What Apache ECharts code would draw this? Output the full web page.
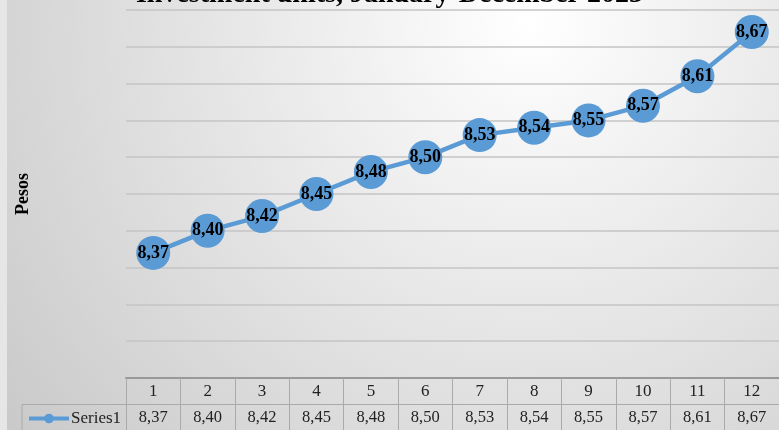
<!DOCTYPE html>
<html>
<head>
<meta charset="utf-8">
<script src="https://cdn.jsdelivr.net/npm/echarts@6/dist/echarts.min.js"></script>
<style>html,body{margin:0;padding:0;}#c{width:779px;height:430px;}</style>
</head>
<body>
<div id="c"></div>
<script>
const titleText = 'Investment units, January-December 2023';
const categories = ['1','2','3','4','5','6','7','8','9','10','11','12'];
const values = [8.37, 8.40, 8.42, 8.45, 8.48, 8.50, 8.53, 8.54, 8.55, 8.57, 8.61, 8.67];
const seriesName = 'Series1';
const yName = 'Pesos';

const fmt = v => v.toFixed(2).replace('.', ',');
const serif = '"Liberation Serif", "Times New Roman", serif';
const chart = echarts.init(document.getElementById('c'));
chart.setOption({
  animation: false,
  backgroundColor: {
    type: 'radial', x: 0.68, y: 0.05, r: 1.55,
    colorStops: [{offset: 0, color: '#ffffff'}, {offset: 1, color: '#c9c9c9'}]
  },
  graphic: [
    {type: 'rect', left: 0, top: 0, shape: {width: 7, height: 430}, style: {fill: '#e6e6e6'}, z: -1},
    {type: 'text', left: 'center', top: -19, style: {text: titleText, font: 'bold 28px ' + serif, fill: '#000'}},
    {type: 'polyline', shape: {points: [[22, 430], [22, 404.5], [126, 404.5]]}, style: {stroke: '#aaaaaa', lineWidth: 1, fill: null}}
  ],
  grid: {left: 126, right: 0, top: 10, bottom: 52},
  legend: {
    data: [seriesName], left: 22, top: 405, itemWidth: 40, itemHeight: 12, itemGap: 4,
    lineStyle: {width: 4},
    textStyle: {fontFamily: serif, fontSize: 17, color: '#222', padding: [0, 0, 0, -3]}
  },
  xAxis: [
    {
      type: 'category', data: categories, position: 'bottom', boundaryGap: true,
      axisLine: {lineStyle: {color: '#999999', width: 2}},
      axisTick: {show: true, length: 52, lineStyle: {color: '#aaaaaa', width: 1}},
      axisLabel: {margin: 5, fontFamily: serif, fontSize: 17, color: '#222'}
    },
    {
      type: 'category', data: values.map(fmt), position: 'bottom', offset: 26, boundaryGap: true,
      axisLine: {lineStyle: {color: '#aaaaaa', width: 1}},
      axisTick: {show: false},
      axisLabel: {margin: 5, fontFamily: serif, fontSize: 16.5, color: '#222'}
    }
  ],
  yAxis: {
    type: 'value', min: 8.2, max: 8.7, interval: 0.05,
    name: yName, nameLocation: 'middle', nameGap: 94,
    nameTextStyle: {fontFamily: serif, fontWeight: 'bold', fontSize: 18, color: '#000'},
    axisLabel: {show: false}, axisLine: {show: false}, axisTick: {show: false},
    splitLine: {lineStyle: {color: '#c4c4c4', width: 1.5}}
  },
  series: [{
    name: seriesName, type: 'line', data: values, xAxisIndex: 0,
    symbol: 'circle', symbolSize: 34,
    lineStyle: {color: '#5b9bd5', width: 4.5},
    itemStyle: {color: '#5b9bd5'},
    label: {show: true, position: 'inside', formatter: p => fmt(p.value),
      fontFamily: serif, fontWeight: 'bold', fontSize: 18, color: '#000'}
  }]
});
</script>
</body>
</html>
